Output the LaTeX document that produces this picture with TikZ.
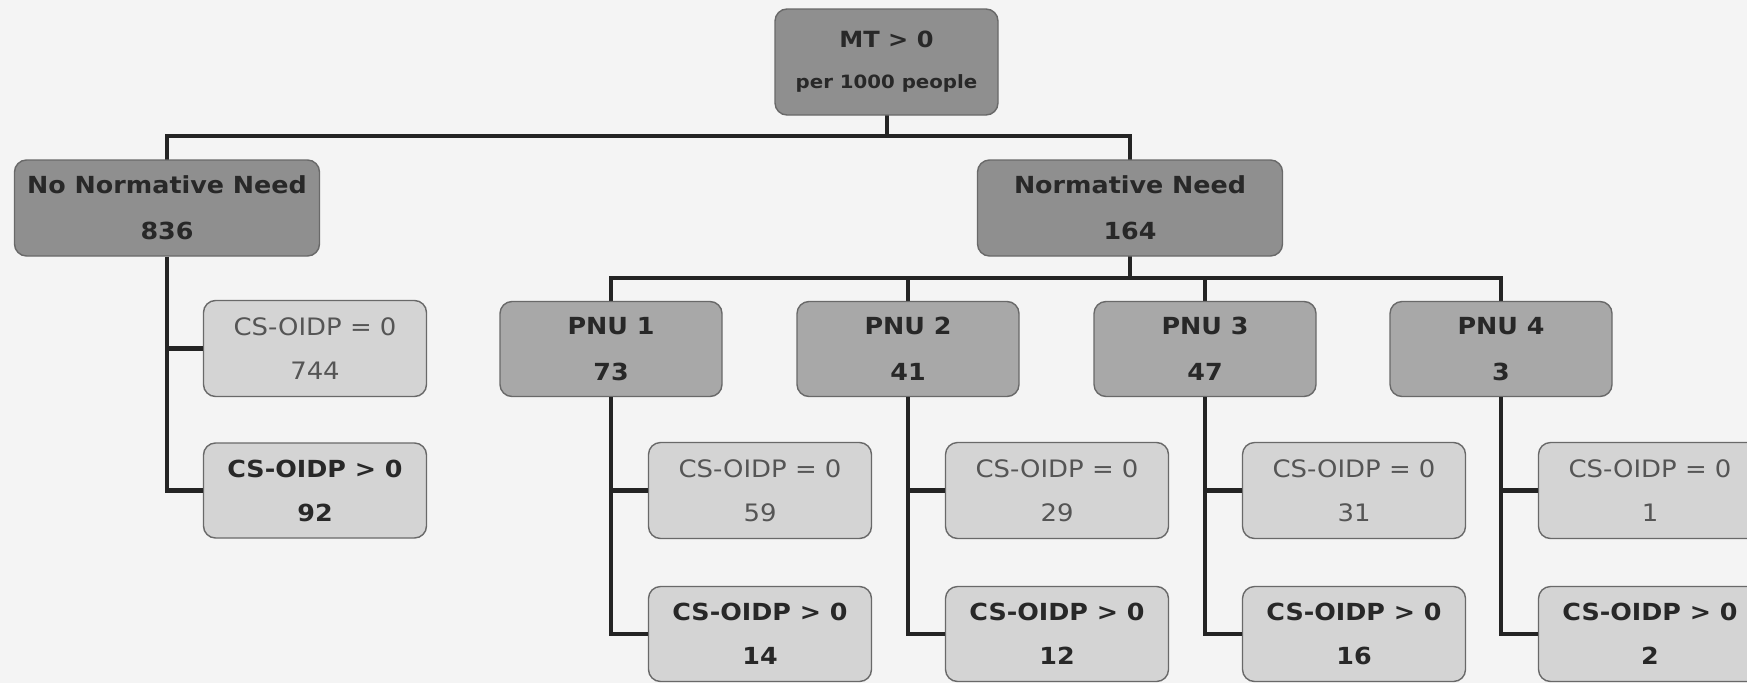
\documentclass[tikz,border=0pt]{standalone}
\usepackage{fontspec}
\setmainfont[FakeStretch=1.08]{DejaVu Sans}
\definecolor{pagebg}{RGB}{244,244,244}
\definecolor{darkfill}{RGB}{143,143,143}
\definecolor{midfill}{RGB}{168,168,168}
\definecolor{lightfill}{RGB}{212,212,212}
\definecolor{boxline}{RGB}{105,105,105}
\definecolor{inkdark}{RGB}{40,40,40}
\definecolor{inkgrey}{RGB}{85,85,85}
\definecolor{connink}{RGB}{36,36,36}
\tikzset{
  box/.style={draw=boxline, line width=1.4pt, rounded corners=12pt, inner sep=0pt,
    align=center, text=inkdark, font=\bfseries\fontsize{23.5}{46}\selectfont},
  topbox/.style={box, fill=darkfill, minimum width=223, minimum height=106,
    font=\bfseries\fontsize{18.3}{41}\selectfont},
  needbox/.style={box, fill=darkfill, minimum width=305, minimum height=96},
  pnubox/.style={box, fill=midfill, minimum width=222, minimum height=95},
  zerobox/.style={box, fill=lightfill, minimum width=223, minimum height=96,
    text=inkgrey, font=\fontsize{24}{44}\selectfont},
  posbox/.style={box, fill=lightfill, minimum width=223, minimum height=95,
    font=\bfseries\fontsize{23.5}{44}\selectfont},
  conn/.style={draw=connink, line width=4.4pt, line join=miter}
}
\begin{document}
\begin{tikzpicture}[x=1pt, y=-1pt]
  \useasboundingbox (0,0) rectangle (1747,683);
  \fill[pagebg] (0,0) rectangle (1747,683);
  \clip (0,0) rectangle (1747,683);

  % connector junction heights
  \coordinate (bar1) at (887,136);
  \coordinate (bar2) at (1130,278);

  % connectors (drawn first, boxes cover their ends)
  \draw[conn] (887,115) -- (bar1);
  \draw[conn] (167,200) |- (bar1) -| (1130,200);
  \draw[conn] (1130,255) -- (bar2);
  \draw[conn] (611,350) |- (bar2) -| (1501,350);
  \draw[conn] (908,350) -- (908,278);
  \draw[conn] (1205,350) -- (1205,278);

  % root
  \node[topbox] (root) at (886.5,62) {{\fontsize{22.3}{41}\selectfont MT > 0}\\per 1000 people};

  % first split
  \node[needbox] (nonorm) at (167,208) {No Normative Need\\836};
  \node[needbox] (norm) at (1130,208) {Normative Need\\164};

  % outcome boxes under no normative need
  \node[zerobox] (nnz) at (315,348.5) {CS-OIDP = 0\\744};
  \node[posbox]  (nnp) at (315,490.5) {CS-OIDP > 0\\92};
  \draw[conn] (nonorm.south) |- (nnp.west);
  \draw[conn] (nonorm.south |- nnz.west) -- (nnz.west);

  % perceived need groups
  \node[pnubox] (p1) at (611,349) {PNU 1\\73};
  \node[pnubox] (p2) at (908,349) {PNU 2\\41};
  \node[pnubox] (p3) at (1205,349) {PNU 3\\47};
  \node[pnubox] (p4) at (1501,349) {PNU 4\\3};

  \node[zerobox] (z1) at (760,490.5) {CS-OIDP = 0\\59};
  \node[posbox]  (q1) at (760,634) {CS-OIDP > 0\\14};
  \node[zerobox] (z2) at (1057,490.5) {CS-OIDP = 0\\29};
  \node[posbox]  (q2) at (1057,634) {CS-OIDP > 0\\12};
  \node[zerobox] (z3) at (1354,490.5) {CS-OIDP = 0\\31};
  \node[posbox]  (q3) at (1354,634) {CS-OIDP > 0\\16};
  \node[zerobox] (z4) at (1650,490.5) {CS-OIDP = 0\\1};
  \node[posbox]  (q4) at (1650,634) {CS-OIDP > 0\\2};

  \foreach \p in {1,2,3,4} {
    \draw[conn] (p\p.south) |- (q\p.west);
    \draw[conn] (p\p.south |- z\p.west) -- (z\p.west);
  }
\end{tikzpicture}
\end{document}
